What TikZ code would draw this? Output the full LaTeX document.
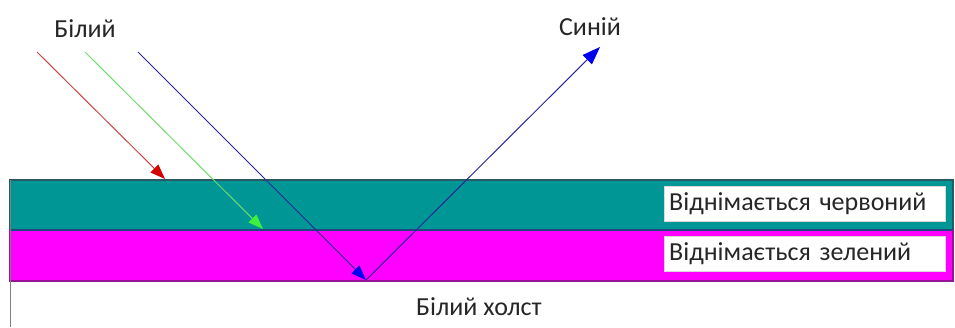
\documentclass[tikz,border=0pt]{standalone}
\usepackage{fontspec}
\setmainfont{Carlito}
\usetikzlibrary{arrows.meta}
\definecolor{layerteal}{RGB}{0,150,150}
\definecolor{layermag}{RGB}{255,0,255}
\definecolor{tealedge}{RGB}{40,90,100}
\definecolor{magedge}{RGB}{150,20,150}
\definecolor{rayred}{RGB}{200,70,70}
\definecolor{headred}{RGB}{210,0,0}
\definecolor{raygreen}{RGB}{110,220,110}
\definecolor{headgreen}{RGB}{60,240,60}
\definecolor{rayblue}{RGB}{40,40,150}
\definecolor{headblue}{RGB}{0,0,240}
\begin{document}
\begin{tikzpicture}[x=1pt, y=-1pt,
    ray/.style={line width=1pt},
    lbl/.style={font=\fontsize{26}{30}\selectfont, text=black!85, inner sep=0pt},
    tag/.style={fill=white, draw=white!85!black, anchor=west, inner xsep=5pt,
        text width=271pt, minimum height=35pt, align=left, text=black!85,
        font=\fontsize{26}{30}\selectfont}]
    \useasboundingbox (0,0) rectangle (955,327);
    % Layers
    \draw[fill=layerteal, draw=tealedge, line width=1.2pt] (10,180) rectangle (953,230);
    \draw[fill=layermag, draw=magedge, line width=1.2pt] (10,230) rectangle (953,281);
    \draw[draw=tealedge!80!blue, line width=1.5pt] (10,230) -- (953,230);
    \draw[gray, line width=1pt] (10,180) -- (10,327);
    % Labels
    \node[lbl] (white) at (85,29) {Білий};
    \node[lbl] (blue) at (590,27) {Синій};
    \node[lbl] (canvas) at (479,307) {Білий холст};
    \node[tag] (subred) at (664,203.5) {Віднімається червоний};
    \node[tag] (subgreen) at (664,254) {Віднімається зелений};
    % Rays
    \coordinate (redIn) at (37,52);
    \coordinate (redHit) at (165,179);
    \coordinate (greenIn) at (85,52);
    \coordinate (greenHit) at (263,229);
    \coordinate (blueIn) at (138,52);
    \coordinate (blueHit) at (366,280);
    \coordinate (blueOut) at (600,47);
    \draw[ray, rayred, -{Triangle[length=15pt, width=11pt, color=headred]}] (redIn) -- (redHit);
    \draw[ray, raygreen, -{Triangle[length=15pt, width=11pt, color=headgreen]}] (greenIn) -- (greenHit);
    \draw[ray, rayblue, -{Triangle[length=15pt, width=11pt, color=headblue]}] (blueIn) -- (blueHit);
    \draw[ray, rayblue, -{Triangle[length=18pt, width=13pt, color=headblue]}] (blueHit) -- (blueOut);
\end{tikzpicture}
\end{document}
